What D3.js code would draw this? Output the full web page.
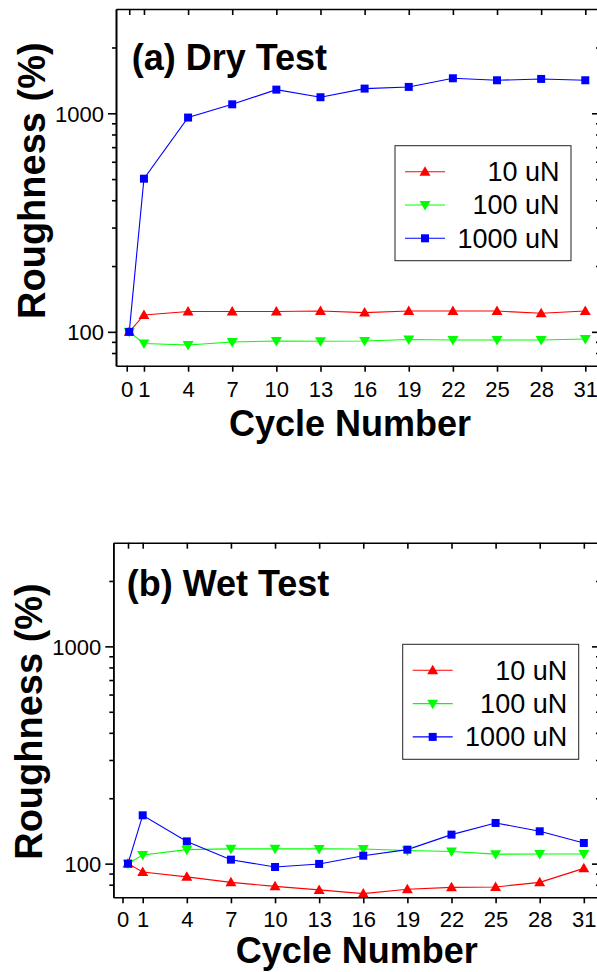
<!DOCTYPE html>
<html>
<head>
<meta charset="utf-8">
<script src="https://cdn.jsdelivr.net/npm/d3@7"></script>
<style>
  body { margin: 0; background: #fff; }
  svg { display: block; font-family: "Liberation Sans", Arial, sans-serif; }
  .axis path, .axis line { stroke: #000; stroke-width: 1.6; }
  .axis text { font-size: 22px; fill: #000; }
</style>
</head>
<body>
<div id="chart"></div>
<script>
// cycle numbers and tick values
var cycles = [0, 1, 4, 7, 10, 13, 16, 19, 22, 25, 28, 31];
var xTicks = [0, 1, 4, 7, 10, 13, 16, 19, 22, 25, 28, 31];
var yTicks = [100, 1000];
var yMinorTicks = [80, 90, 200, 300, 400, 500, 600, 700, 800, 900, 2000];

var seriesNames = ["10 uN", "100 uN", "1000 uN"];
var seriesColors = ["#ff0000", "#00ff00", "#0000ff"];
var seriesShapes = ["up", "down", "square"];

// roughness (%)
var dry10 = [100, 119.5, 124, 124, 124, 124.5, 122.5, 124.5, 124.5, 124.5, 121.7, 124.5];
var dry100 = [100, 88.4, 87, 89.8, 90.8, 90.6, 90.8, 92.2, 91.7, 91.7, 91.7, 92.7];
var dry1000 = [100, 502, 956, 1099, 1283, 1184, 1297, 1320, 1446, 1416, 1436, 1416];

var wet10 = [100, 91.6, 86.9, 82, 78.6, 75.7, 72.8, 76.2, 77.8, 78.1, 82, 95.1];
var wet100 = [100, 109.6, 116, 117, 117, 116.9, 116.7, 115, 113.8, 110.6, 110.8, 110.8];
var wet1000 = [100, 166.9, 126.6, 104.3, 96.5, 99.7, 108.8, 116, 136, 153.9, 140.9, 124.5];

var width = 597;
var height = 972;

var svg = d3
  .select("#chart")
  .append("svg")
  .attr("width", width)
  .attr("height", height);

// panel layout
var panels = [
  {
    title: "(a) Dry Test",
    series: [dry10, dry100, dry1000],
    left: 116, right: 600, top: 9, bottom: 365.7,
    xDomain: [-0.9, 32],
    zeroShift: -2,
    titleX: 131.7, titleY: 69.5,
    legendX: 395, legendY: 145.7,
    yTitleX: 45, yTitleY: 180.7,
    xTitleX: 350, xTitleY: 436,
    xLabelY: 31
  },
  {
    title: "(b) Wet Test",
    series: [wet10, wet100, wet1000],
    left: 113.3, right: 600, top: 542.7, bottom: 897.3,
    xDomain: [-1, 32.1],
    zeroShift: -5,
    titleX: 126.7, titleY: 596,
    legendX: 402.7, legendY: 644.3,
    yTitleX: 42, yTitleY: 721.5,
    xTitleX: 356.7, xTitleY: 963,
    xLabelY: 29.4
  }
];

function markerPath(shape) {
  if (shape === "square") {
    return d3.symbol().type(d3.symbolSquare).size(64)();
  }
  return d3.symbol().type(d3.symbolTriangle).size(52)();
}

function drawMarker(g, shape, color, x, y) {
  var rot = shape === "down" ? " rotate(180)" : "";
  var dy = shape === "up" ? 0.8 : shape === "down" ? -0.8 : 0;
  g.append("path")
    .attr("d", markerPath(shape))
    .attr("transform", "translate(" + x + "," + (y + dy) + ")" + rot)
    .attr("fill", color);
}

panels.forEach(function (p) {
  var g = svg.append("g");

  var xScale = d3.scaleLinear().domain(p.xDomain).range([p.left, p.right]);
  var yScale = d3.scaleLog().domain([70, 3000]).range([p.bottom, p.top]);

  // bottom axis with labels
  var bottomAxis = g
    .append("g")
    .attr("class", "axis")
    .attr("transform", "translate(0," + p.bottom + ")")
    .call(d3.axisBottom(xScale).tickValues(xTicks).tickSize(6).tickSizeOuter(0).tickFormat(d3.format("d")));
  bottomAxis.selectAll("text").attr("dy", null).attr("y", p.xLabelY);

  // the "0" tick sits a little left of its value in the original
  bottomAxis
    .selectAll(".tick")
    .filter(function (d) { return d === 0; })
    .attr("transform", "translate(" + (xScale(0) + p.zeroShift) + ",0)");

  // top axis, ticks inward
  g.append("g")
    .attr("class", "axis")
    .attr("transform", "translate(0," + p.top + ")")
    .call(d3.axisBottom(xScale).tickValues(xTicks).tickSize(6).tickSizeOuter(0).tickFormat(""));

  // left axis
  var leftAxis = g
    .append("g")
    .attr("class", "axis")
    .attr("transform", "translate(" + p.left + ",0)")
    .call(d3.axisLeft(yScale).tickValues(yTicks).tickSize(8).tickSizeOuter(0).tickPadding(4).tickFormat(d3.format("d")));
  leftAxis.selectAll("text").attr("dy", "0.36em");

  g.append("g")
    .attr("class", "axis")
    .attr("transform", "translate(" + p.left + ",0)")
    .call(d3.axisLeft(yScale).tickValues(yMinorTicks).tickSize(4).tickSizeOuter(0).tickFormat(""));

  // right axis, ticks inward
  g.append("g")
    .attr("class", "axis")
    .attr("transform", "translate(" + p.right + ",0)")
    .call(d3.axisLeft(yScale).tickValues(yTicks).tickSize(8).tickSizeOuter(0).tickFormat(""));
  g.append("g")
    .attr("class", "axis")
    .attr("transform", "translate(" + p.right + ",0)")
    .call(d3.axisLeft(yScale).tickValues(yMinorTicks).tickSize(4).tickSizeOuter(0).tickFormat(""));

  // series lines and markers
  var line = d3
    .line()
    .x(function (d, i) { return xScale(cycles[i]); })
    .y(function (d) { return yScale(d); });

  p.series.forEach(function (vals, k) {
    g.append("path")
      .datum(vals)
      .attr("d", line)
      .attr("fill", "none")
      .attr("stroke", seriesColors[k])
      .attr("stroke-width", 1.1);
  });
  p.series.forEach(function (vals, k) {
    vals.forEach(function (v, i) {
      drawMarker(g, seriesShapes[k], seriesColors[k], xScale(cycles[i]), yScale(v));
    });
  });

  // panel title
  g.append("text")
    .attr("x", p.titleX)
    .attr("y", p.titleY)
    .attr("font-size", 36)
    .attr("font-weight", "bold")
    .text(p.title);

  // axis titles
  g.append("text")
    .attr("transform", "translate(" + p.yTitleX + "," + p.yTitleY + ")rotate(-90)")
    .attr("text-anchor", "middle")
    .attr("font-size", 38)
    .attr("font-weight", "bold")
    .text("Roughness (%)");

  g.append("text")
    .attr("x", p.xTitleX)
    .attr("y", p.xTitleY)
    .attr("text-anchor", "middle")
    .attr("font-size", 36)
    .attr("font-weight", "bold")
    .text("Cycle Number");

  // legend
  var lg = g.append("g").attr("transform", "translate(" + p.legendX + "," + p.legendY + ")");
  lg.append("rect")
    .attr("width", 176)
    .attr("height", 115)
    .attr("fill", "#fff")
    .attr("stroke", "#222")
    .attr("stroke-width", 1);

  seriesNames.forEach(function (name, k) {
    var ry = 26 + k * 33.3;
    lg.append("line")
      .attr("x1", 10)
      .attr("x2", 50)
      .attr("y1", ry)
      .attr("y2", ry)
      .attr("stroke", seriesColors[k])
      .attr("stroke-width", 1.1);
    drawMarker(lg, seriesShapes[k], seriesColors[k], 30, ry);
    lg.append("text")
      .attr("x", 164.5)
      .attr("y", ry + 9.5)
      .attr("text-anchor", "end")
      .attr("font-size", 27)
      .text(name);
  });
});
</script>
</body>
</html>
